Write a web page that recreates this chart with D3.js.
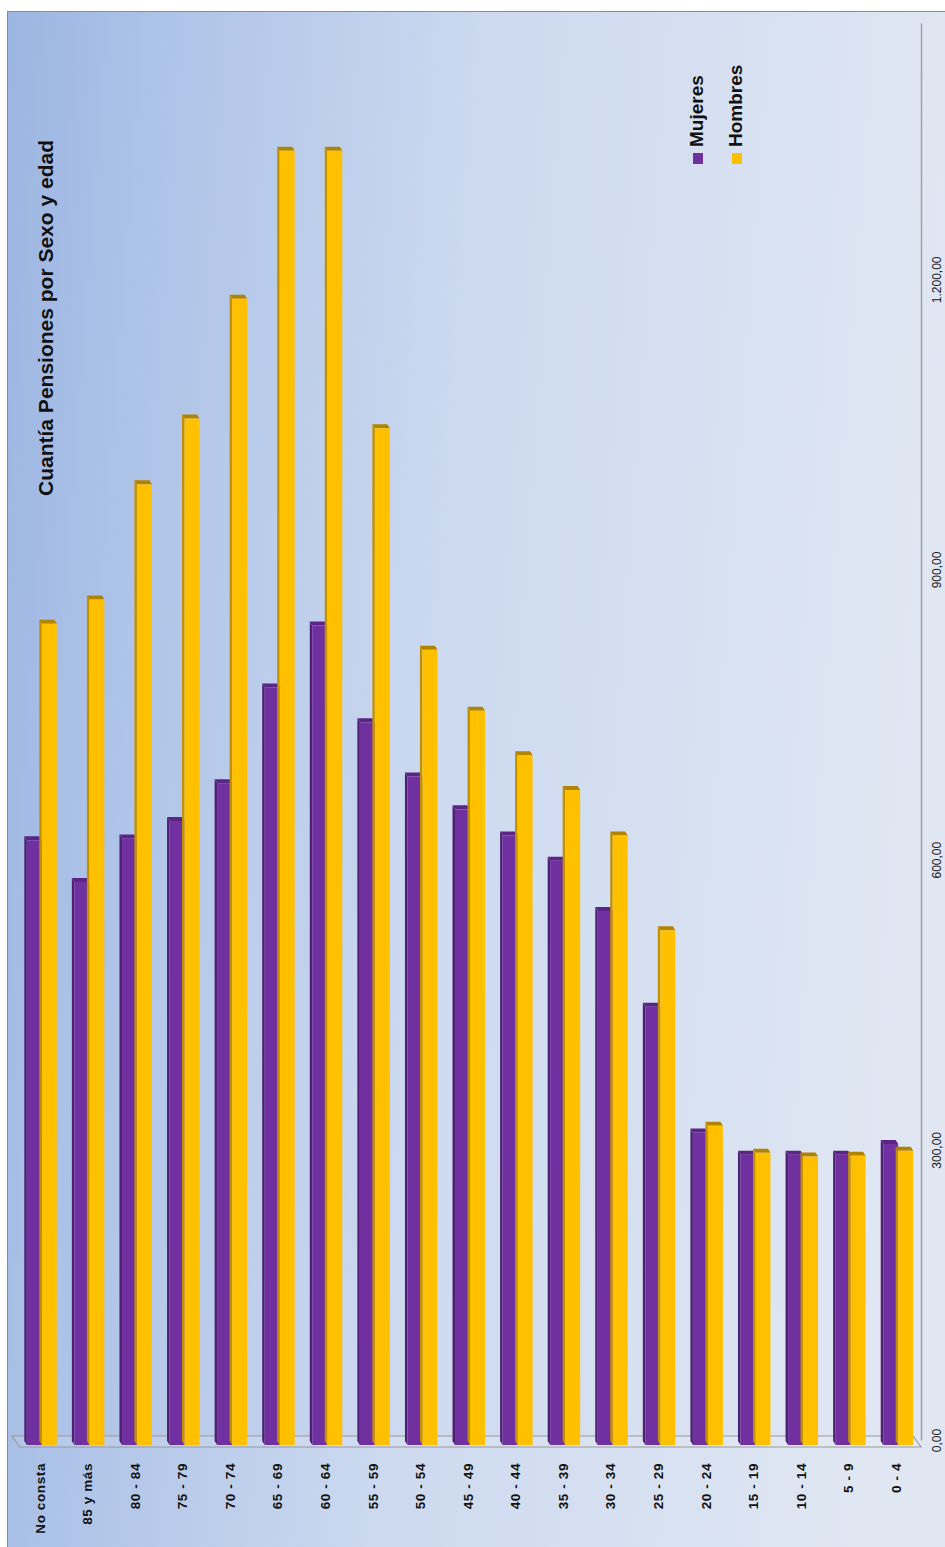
<!DOCTYPE html>
<html>
<head>
<meta charset="utf-8">
<script src="https://cdn.jsdelivr.net/npm/d3@7"></script>
<style>
  html, body { margin: 0; padding: 0; background: #ffffff; }
  svg { display: block; }
</style>
</head>
<body>
<div id="chart"></div>
<script>
// Age groups, from left to right
const categories = [
  "No consta", "85 y más", "80 - 84", "75 - 79", "70 - 74", "65 - 69", "60 - 64",
  "55 - 59", "50 - 54", "45 - 49", "40 - 44", "35 - 39", "30 - 34", "25 - 29",
  "20 - 24", "15 - 19", "10 - 14", "5 - 9", "0 - 4"
];
// Average pension amount per group
const mujeres = [620, 577, 622, 640, 679, 778, 842, 742, 686, 652, 625, 599, 547, 448, 318, 295, 295, 295, 306];
const hombres = [844, 869, 988, 1056, 1180, 1333, 1333, 1046, 817, 754, 708, 672, 625, 527, 325, 297, 293, 294, 299];
const seriesNames = ["Mujeres", "Hombres"];
const tickValues = [0, 300, 600, 900, 1200];
const title = "Cuantía Pensiones por Sexo y edad";

const W = 945, H = 1547;
const FONT = "'Liberation Sans', Arial, sans-serif";

const palette = {
  Mujeres: { front: "#7030a0", side: "#4e1f73", top: "#5b2586" },
  Hombres: { front: "#ffc000", side: "#c29100", top: "#b08300" }
};

const svg = d3.select("#chart").append("svg")
  .attr("width", W).attr("height", H);

// Background gradient of the chart area
const defs = svg.append("defs");
const bg = defs.append("linearGradient").attr("id", "bg")
  .attr("x1", "0").attr("y1", "0").attr("x2", "1").attr("y2", "0.12");
bg.append("stop").attr("offset", "0").attr("stop-color", "#9cb6e2");
bg.append("stop").attr("offset", "0.18").attr("stop-color", "#afc4e8");
bg.append("stop").attr("offset", "0.5").attr("stop-color", "#ccd9ef");
bg.append("stop").attr("offset", "1").attr("stop-color", "#e0e7f3");

svg.append("rect")
  .attr("x", 7.5).attr("y", 11.5)
  .attr("width", W).attr("height", H)
  .attr("fill", "url(#bg)")
  .attr("stroke", "#8c8c8c").attr("stroke-width", 1);

// Scales
const x = d3.scaleBand()
  .domain(categories)
  .range([18, 922])
  .paddingInner(0.37)
  .paddingOuter(0.185);

const xs = d3.scaleBand()
  .domain(seriesNames)
  .range([0, x.bandwidth()]);

const y = d3.scaleLinear()
  .domain([0, 1465])
  .range([1440, 23]);

const esLocale = d3.formatLocale({ decimal: ",", thousands: ".", grouping: [3], currency: ["", " €"] });
const fmt = esLocale.format(",.2f");

// Floor of the plot
const y0 = y(0);
svg.append("path")
  .attr("d", `M12,${y0 - 4} L913,${y0 - 4} L921,${y0 + 7} L20,${y0 + 7} Z`)
  .attr("fill", "rgba(255,255,255,0.12)")
  .attr("stroke", "#9a9a9a").attr("stroke-width", 1.2);

// Value axis on the right side
const axis = svg.append("g")
  .attr("transform", "translate(921,0)")
  .call(d3.axisRight(y).tickValues(tickValues).tickFormat(fmt).tickSizeInner(0).tickSizeOuter(0));
axis.select(".domain").attr("stroke", "#a3a3a3").attr("stroke-width", 1.6);
axis.selectAll(".tick line").remove();
axis.selectAll(".tick text")
  .attr("x", null).attr("dy", null)
  .attr("transform", "translate(16,0) rotate(-90)")
  .attr("text-anchor", "middle")
  .attr("dy", "0.35em")
  .attr("fill", "#222222")
  .style("font-family", FONT)
  .style("font-size", "12px");

// Bars with a shallow 3D look: left side face, top cap and front face
const dx = 2.5, dy = 4;
const rows = [];
categories.forEach((c, i) => {
  rows.push({ cat: c, series: "Mujeres", value: mujeres[i] });
  rows.push({ cat: c, series: "Hombres", value: hombres[i] });
});

const bars = svg.append("g").selectAll("g.bar")
  .data(rows)
  .join("g").attr("class", "bar");

bars.each(function (d) {
  const g = d3.select(this);
  const col = palette[d.series];
  const xl = x(d.cat) + xs(d.series);
  const w = xs.bandwidth();
  const top = y(d.value);
  const base = y(0) + 5;
  g.append("path")
    .attr("d", `M${xl},${top} L${xl - dx},${top - dy} L${xl - dx},${base - dy} L${xl},${base} Z`)
    .attr("fill", col.side);
  g.append("path")
    .attr("d", `M${xl},${top} L${xl + w},${top} L${xl + w - dx},${top - dy} L${xl - dx},${top - dy} Z`)
    .attr("fill", col.top);
  g.append("rect")
    .attr("x", xl).attr("y", top)
    .attr("width", w).attr("height", base - top)
    .attr("fill", col.front);
});

// Category labels, rotated
svg.append("g").selectAll("text")
  .data(categories)
  .join("text")
  .attr("transform", d => `translate(${x(d) + x.bandwidth() / 2 - 2},1463) rotate(-90)`)
  .attr("text-anchor", "end")
  .attr("dy", "0.35em")
  .attr("fill", "#111111")
  .style("font-family", FONT)
  .style("font-weight", "bold")
  .style("font-size", "13.5px")
  .style("letter-spacing", "0.6px")
  .text(d => d);

// Title
svg.append("text")
  .attr("transform", "translate(53,318) rotate(-90)")
  .attr("text-anchor", "middle")
  .attr("fill", "#111111")
  .style("font-family", FONT)
  .style("font-weight", "bold")
  .style("font-size", "21px")
  .text(title);

// Legend
const legend = svg.append("g").selectAll("g")
  .data(seriesNames)
  .join("g")
  .attr("transform", (d, i) => `translate(${703 + i * 39},0)`);
legend.append("rect")
  .attr("x", -10).attr("y", 153)
  .attr("width", 10).attr("height", 11)
  .attr("fill", d => palette[d].front);
legend.append("text")
  .attr("transform", "translate(0,147) rotate(-90)")
  .attr("text-anchor", "start")
  .attr("fill", "#111111")
  .style("font-family", FONT)
  .style("font-weight", "bold")
  .style("font-size", "19px")
  .text(d => d);
</script>
</body>
</html>
